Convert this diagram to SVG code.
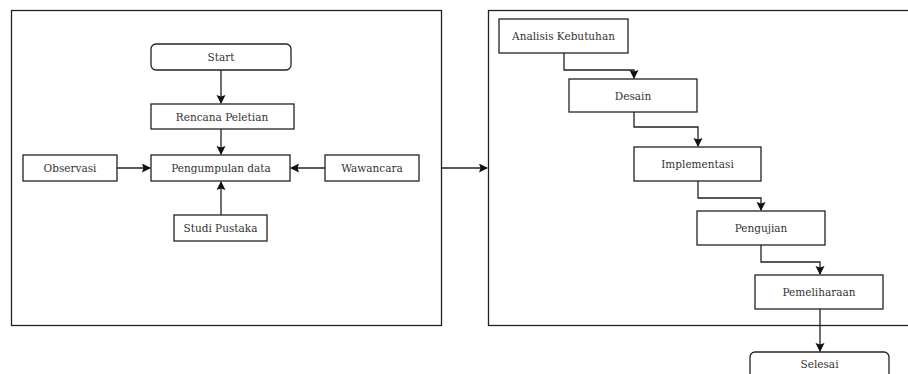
<svg xmlns="http://www.w3.org/2000/svg" width="908" height="374" viewBox="0 0 908 374">
<style>
.box{fill:#fff;stroke:#222;stroke-width:1.3}
.frame{fill:#fff;stroke:#222;stroke-width:1.3}
.t{font-family:"DejaVu Serif","Liberation Serif",serif;font-size:10.5px;fill:#333;text-anchor:middle;dominant-baseline:central}
.c{fill:none;stroke:#222;stroke-width:1.3}
</style>
<defs>
<marker id="ah" markerWidth="10" markerHeight="10" refX="8" refY="4.5" orient="auto" markerUnits="userSpaceOnUse">
<path d="M0,0 L9,4.5 L0,9 L1.5,4.5 Z" fill="#111"/>
</marker>
</defs>
<g id="frame-left"><rect class="frame" x="11.5" y="10.5" width="430" height="315"/></g>
<g id="frame-right"><rect class="frame" x="488.5" y="10.5" width="425" height="315"/></g>
<g id="start"><rect class="box" x="151" y="44" width="140" height="26" rx="5"/><text class="t" x="221" y="57">Start</text></g>
<g id="rencana"><rect class="box" x="151" y="104" width="143" height="25"/><text class="t" x="222" y="116.5">Rencana Peletian</text></g>
<g id="pengumpulan"><rect class="box" x="151" y="155" width="139" height="26"/><text class="t" x="221" y="168">Pengumpulan data</text></g>
<g id="observasi"><rect class="box" x="23" y="155" width="94" height="26"/><text class="t" x="70" y="168">Observasi</text></g>
<g id="wawancara"><rect class="box" x="325" y="155" width="94" height="26"/><text class="t" x="372" y="168">Wawancara</text></g>
<g id="studi"><rect class="box" x="174" y="215" width="93" height="26"/><text class="t" x="220.5" y="228">Studi Pustaka</text></g>
<g id="analisis"><rect class="box" x="499" y="19" width="129" height="34"/><text class="t" x="563.5" y="36">Analisis Kebutuhan</text></g>
<g id="desain"><rect class="box" x="569" y="79" width="128" height="33"/><text class="t" x="633" y="95.5">Desain</text></g>
<g id="implementasi"><rect class="box" x="634" y="147" width="127" height="34"/><text class="t" x="697.5" y="164">Implementasi</text></g>
<g id="pengujian"><rect class="box" x="697" y="211" width="128" height="34"/><text class="t" x="761" y="228">Pengujian</text></g>
<g id="pemeliharaan"><rect class="box" x="755" y="275" width="128" height="34"/><text class="t" x="819" y="292">Pemeliharaan</text></g>
<g id="selesai"><rect class="box" x="750" y="352" width="139" height="30" rx="5"/><text class="t" x="819.5" y="364">Selesai</text></g>
<g id="connectors">
<path class="c" d="M221,70 V103" marker-end="url(#ah)"/>
<path class="c" d="M221,129 V154" marker-end="url(#ah)"/>
<path class="c" d="M117,168 H150" marker-end="url(#ah)"/>
<path class="c" d="M325,168 H291" marker-end="url(#ah)"/>
<path class="c" d="M221,215 V182" marker-end="url(#ah)"/>
<path class="c" d="M442,168 H487" marker-end="url(#ah)"/>
<path class="c" d="M564,53 V70 H634 V78" marker-end="url(#ah)"/>
<path class="c" d="M634,112 V127 H698 V146" marker-end="url(#ah)"/>
<path class="c" d="M698,181 V198 H761 V210" marker-end="url(#ah)"/>
<path class="c" d="M761,245 V262 H820 V274" marker-end="url(#ah)"/>
<path class="c" d="M820,309 V351" marker-end="url(#ah)"/>
</g>
</svg>
